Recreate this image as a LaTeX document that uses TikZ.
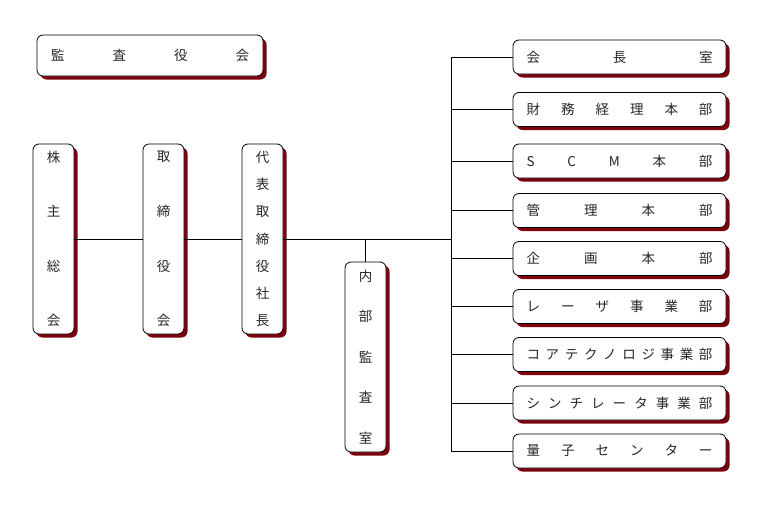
\documentclass[tikz,border=0pt]{standalone}
\usepackage{fontspec}
\setmainfont{Noto Sans CJK JP}
\usetikzlibrary{shadows}
\definecolor{shadowred}{RGB}{125,0,12}
\newcommand{\vc}[1]{\hbox to 20pt{\hss#1\hss}}
\tikzset{
  orgbox/.style={draw=black, line width=0.8pt, fill=white, rounded corners=6pt,
    inner sep=0pt, font=\fontsize{13.5}{14}\selectfont, text=black!85,
    general shadow={fill=shadowred, shadow xshift=3.5pt, shadow yshift=-3.5pt}},
  hbox/.style={orgbox, minimum width=213pt, minimum height=34pt},
  vbox/.style={orgbox, minimum width=41pt, minimum height=190pt},
  link/.style={draw=black, line width=0.8pt}
}
\begin{document}
\begin{tikzpicture}[x=1pt,y=-1pt]
\useasboundingbox (0,0) rectangle (762,511);
% top-left
\node[orgbox, minimum width=226pt, minimum height=41pt] (kansa) at (150,55.5)
  {\makebox[198pt][s]{監\hfill 査\hfill 役\hfill 会}};
% vertical boxes
\node[vbox] (kabu) at (53.5,239) {\vbox to 175pt{\vc{株}\vfill\vc{主}\vfill\vc{総}\vfill\vc{会}}};
\node[vbox] (tori) at (163.5,239) {\vbox to 175pt{\vc{取}\vfill\vc{締}\vfill\vc{役}\vfill\vc{会}}};
\node[vbox] (dai) at (262.5,239) {\vbox to 175pt{\vc{代}\vfill\vc{表}\vfill\vc{取}\vfill\vc{締}\vfill\vc{役}\vfill\vc{社}\vfill\vc{長}}};
\node[vbox] (naibu) at (365.5,357) {\vbox to 173pt{\vc{内}\vfill\vc{部}\vfill\vc{監}\vfill\vc{査}\vfill\vc{室}}};
% right boxes
\node[hbox] (r1) at (619.5,57) {\makebox[186pt][s]{会\hfill 長\hfill 室}};
\node[hbox] (r2) at (619.5,109.5) {\makebox[186pt][s]{財\hfill 務\hfill 経\hfill 理\hfill 本\hfill 部}};
\node[hbox] (r3) at (619.5,161) {\makebox[186pt][s]{S\hfill C\hfill M\hfill 本\hfill 部}};
\node[hbox] (r4) at (619.5,210.5) {\makebox[186pt][s]{管\hfill 理\hfill 本\hfill 部}};
\node[hbox] (r5) at (619.5,258.5) {\makebox[186pt][s]{企\hfill 画\hfill 本\hfill 部}};
\node[hbox] (r6) at (619.5,306.5) {\makebox[186pt][s]{レ\hfill ー\hfill ザ\hfill 事\hfill 業\hfill 部}};
\node[hbox] (r7) at (619.5,354.5) {\makebox[186pt][s]{コ\hfill ア\hfill テ\hfill ク\hfill ノ\hfill ロ\hfill ジ\hfill 事\hfill 業\hfill 部}};
\node[hbox] (r8) at (619.5,403) {\makebox[186pt][s]{シ\hfill ン\hfill チ\hfill レ\hfill ー\hfill タ\hfill 事\hfill 業\hfill 部}};
\node[hbox] (r9) at (619.5,451) {\makebox[186pt][s]{量\hfill 子\hfill セ\hfill ン\hfill タ\hfill ー}};
% connectors
\coordinate (sp) at (451,239);
\draw[link] (kabu.east) -- (tori.west);
\draw[link] (tori.east) -- (dai.west);
\draw[link] (dai.east) -- (sp);
\draw[link] (naibu.north) -- (naibu.north |- dai.east);
\draw[link] (r1.west) -| (sp);
\draw[link] (r9.west) -| (sp);
\foreach \r in {r2,r3,r4,r5,r6,r7,r8}
  \draw[link] (\r.west) -- (\r.west -| sp);
\end{tikzpicture}
\end{document}
